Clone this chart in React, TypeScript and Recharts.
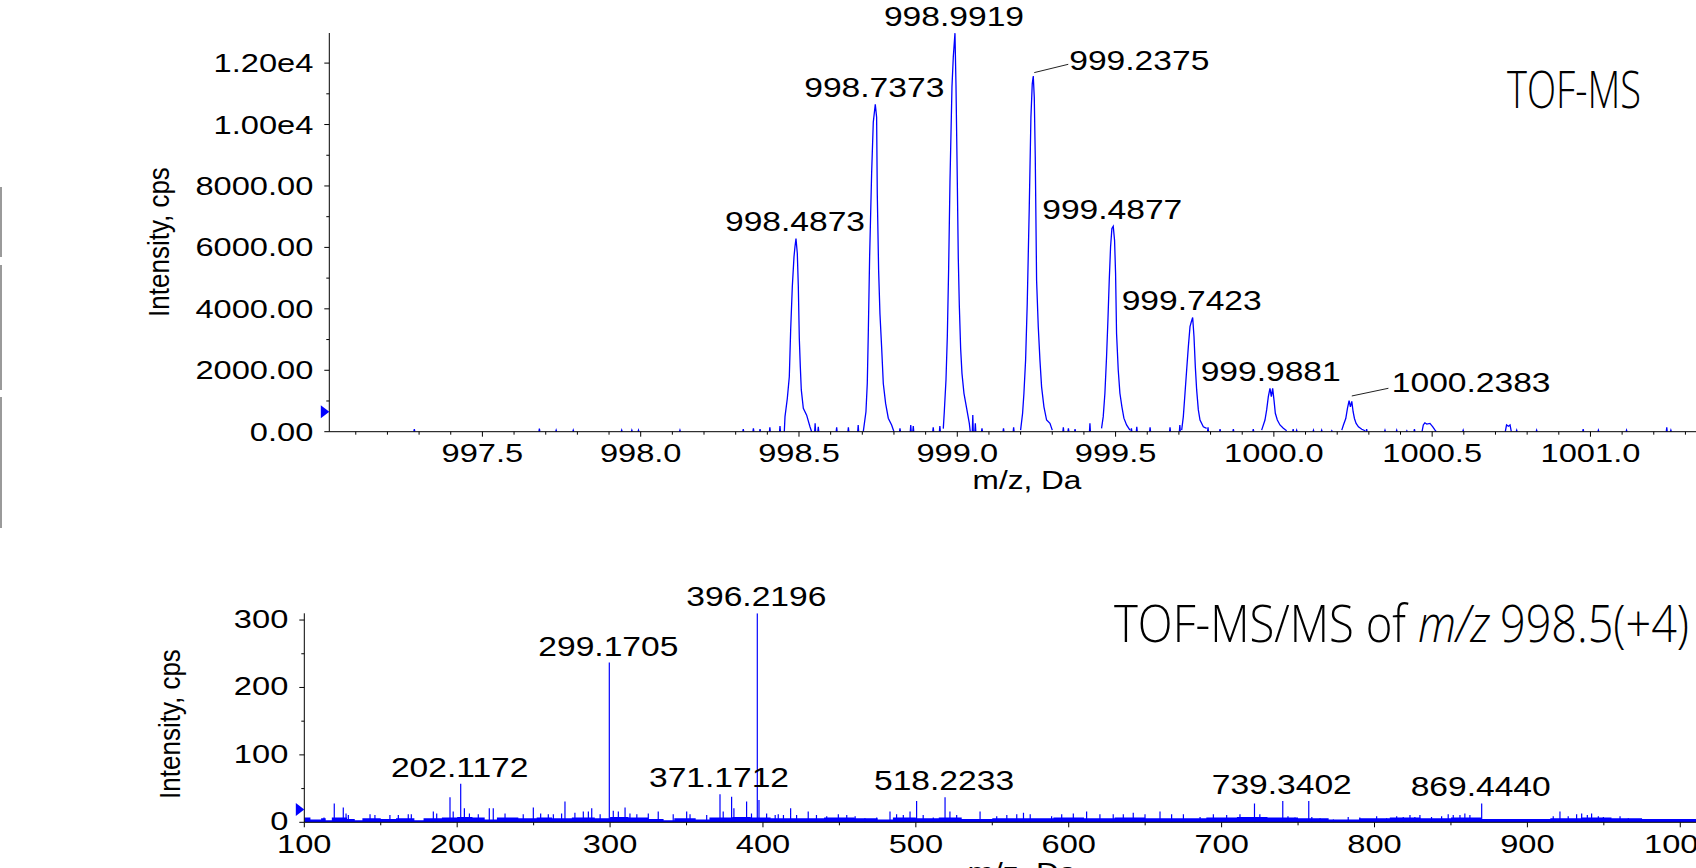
import React from 'react';
import { ComposedChart, Line, Area, XAxis, YAxis, ReferenceDot } from 'recharts';

type Pt = [number, number];

// ---------- TOF-MS (profile) : [m/z, intensity] ----------
const tofPeak1: Pt[] = [
  [998.4536, 0], [998.4558, 490], [998.4631, 1080], [998.4694, 1790], [998.4737, 3310],
  [998.4789, 4720], [998.4842, 5690], [998.4873, 6020], [998.4905, 6290], [998.4947, 5800],
  [998.4979, 4720], [998.501, 3040], [998.5042, 2110], [998.5073, 1360], [998.5137, 760],
  [998.5242, 540], [998.5347, 160], [998.54, 0],
];
const tofPeak2: Pt[] = [
  [998.7031, 0], [998.7115, 650], [998.7157, 1570], [998.7189, 3200], [998.7231, 5690],
  [998.7294, 8400], [998.7347, 10080], [998.741, 10660], [998.7452, 10240], [998.7473, 7750],
  [998.7515, 5260], [998.7557, 3850], [998.761, 2760], [998.7663, 1570], [998.7736, 920],
  [998.7821, 440], [998.7926, 220], [998.8, 0],
];
const tofPeak3: Pt[] = [
  [998.9558, 100], [998.959, 650], [998.9643, 1680], [998.9685, 3090], [998.9727, 5310],
  [998.9769, 8130], [998.9832, 11220], [998.9874, 12200], [998.9927, 12975], [998.9959, 11280],
  [999.0001, 8130], [999.0032, 5640], [999.0064, 4120], [999.0106, 2710], [999.0148, 1900],
  [999.0211, 1250], [999.0296, 760], [999.038, 270], [999.041, 0],
];
const tofPeak4: Pt[] = [
  [999.2, 50], [999.2063, 600], [999.2105, 1250], [999.2158, 2330], [999.221, 4180],
  [999.2274, 7320], [999.2326, 10240], [999.2368, 11330], [999.24, 11580], [999.2432, 10890],
  [999.2463, 8940], [999.2505, 4930], [999.2558, 3420], [999.2611, 2330], [999.2663, 1460],
  [999.2737, 810], [999.2821, 380], [999.2927, 270], [999.3, 50],
];
const tofPeak5: Pt[] = [
  [999.4557, 110], [999.461, 490], [999.4663, 1250], [999.4715, 2440], [999.4758, 3630],
  [999.48, 4930], [999.4842, 6020], [999.4884, 6620], [999.4926, 6690], [999.4968, 6230],
  [999.5, 5150], [999.5031, 3200], [999.5084, 2010], [999.5137, 1250], [999.52, 810],
  [999.5263, 440], [999.5347, 220], [999.5453, 50],
];
const tofPeak6: Pt[] = [
  [999.7088, 50], [999.714, 490], [999.7193, 1250], [999.7245, 2010], [999.7298, 2760],
  [999.7351, 3420], [999.7393, 3580], [999.7435, 3720], [999.7477, 3090], [999.7519, 2110],
  [999.7561, 1360], [999.7614, 710], [999.7667, 380], [999.7772, 160], [999.7877, 110],
];
const tofPeak7: Pt[] = [
  [999.9614, 50], [999.9719, 380], [999.9772, 710], [999.9825, 1140], [999.9877, 1410],
  [999.992, 1140], [999.9962, 1410], [1000.0004, 1030], [1000.0046, 600], [1000.0109, 380],
  [1000.0193, 220], [1000.0299, 110], [1000.0404, 30],
];
const tofPeak8: Pt[] = [
  [1000.2145, 50], [1000.2197, 220], [1000.2271, 430], [1000.2324, 760], [1000.2376, 1010],
  [1000.2418, 810], [1000.2461, 990], [1000.2503, 650], [1000.2545, 430], [1000.2598, 270],
  [1000.2671, 160], [1000.2777, 80], [1000.2882, 30],
];
const tofBump1: Pt[] = [
  [1000.468, 0], [1000.472, 220], [1000.477, 290], [1000.483, 250], [1000.493, 270],
  [1000.502, 160], [1000.509, 50], [1000.513, 0],
];
const tofBump2: Pt[] = [[1000.731, 0], [1000.735, 220], [1000.741, 180], [1000.746, 220], [1000.75, 0]];
const tofNoise: Pt[] = [
  [997.285, 80], [997.68, 100], [997.733, 50], [997.787, 50], [997.94, 50], [997.972, 50], [997.993, 50],
  [998.124, 50], [998.324, 80], [998.356, 110], [998.377, 80], [998.408, 140], [998.44, 180],
  [998.551, 270], [998.561, 160], [998.619, 140], [998.656, 140], [998.687, 220],
  [998.819, 110], [998.853, 220], [998.861, 180], [998.924, 140], [998.945, 180],
  [999.049, 540], [999.057, 270], [999.078, 110], [999.146, 110], [999.178, 140],
  [999.335, 140], [999.351, 110], [999.372, 80], [999.419, 270],
  [999.55, 110], [999.567, 160], [999.609, 140], [999.672, 140], [999.703, 220],
  [999.792, 140], [999.83, 80], [999.872, 80], [999.935, 80],
  [1000.061, 80], [1000.072, 50], [1000.125, 50], [1000.151, 50], [1000.183, 30],
  [1000.293, 80], [1000.351, 50], [1000.388, 50], [1000.42, 30], [1000.444, 80],
  [1000.598, 50], [1000.767, 50], [1000.83, 50], [1000.977, 80], [1001.025, 50],
  [1001.114, 50], [1001.241, 140], [1001.254, 50],
];
const tofLabelText = ['998.4873', '998.7373', '998.9919', '999.2375', '999.4877', '999.7423', '999.9881', '1000.2383'];
const tofLabelMz = [998.4905, 998.741, 998.9927, 999.24, 999.4926, 999.7435, 999.993, 1000.2408];
const tofLabelInt = [6290, 10660, 12975, 11580, 6690, 3720, 1410, 1010];
const tofXTickLabels = [997.5, 998.0, 998.5, 999.0, 999.5, 1000.0, 1000.5, 1001.0];
const tofYTickLabels = [0, 2000, 4000, 6000, 8000, 10000, 12000];
const tofMarkerLevel = 651;

// ---------- TOF-MS/MS (centroid sticks) : [m/z, intensity] ----------
const msmsMajorPeaks: Pt[] = [
  [195.3, 37], [202.3, 57], [299.5, 237], [371.9, 41.5], [379.5, 38], [389.3, 31], [396.3, 310],
  [397.4, 33], [500.5, 31.6], [519.1, 37], [721.5, 28], [740.0, 31.6], [757.0, 31.6], [870.1, 28], [921.3, 16],
];
const msmsMinorPeaks: Pt[] = [
  [101.6, 6], [112.9, 7], [119.6, 28], [125.5, 22], [127.3, 13], [128.8, 11], [143, 12], [146.2, 11],
  [156, 11], [161.5, 11], [168, 12], [170, 12], [184.4, 16], [186.6, 13], [197.4, 16], [204.7, 21],
  [208, 13], [213.8, 12], [221, 21], [223.6, 21], [231.3, 13], [243.2, 12], [249.8, 22], [254.6, 13],
  [259.6, 12], [262.9, 12], [268.3, 13], [270.5, 31], [277, 14], [282.5, 16], [285.8, 16], [288, 21],
  [293.5, 12], [302.1, 17], [305.4, 16], [309.8, 22], [313, 13], [317.5, 12], [325, 13], [331.5, 16],
  [341.3, 12], [350.1, 16], [352.3, 12], [363.2, 11], [374, 16], [381.0, 21], [392.5, 13],
  [402.4, 13], [408, 11], [410, 12], [413.4, 11], [418.1, 21], [422, 11], [429.6, 16], [435, 11],
  [441.7, 9], [449.3, 12], [454.8, 11], [460.3, 9], [466.7, 6], [474.4, 7], [483.1, 16], [487.4, 12],
  [491.8, 11], [496.2, 16], [504.8, 11], [511.4, 7], [522.3, 16], [526.7, 11], [542, 16], [552.9, 9],
  [559.5, 11], [566, 12], [570.4, 14], [574.8, 12], [588.8, 9], [595.4, 12], [603, 13], [611.7, 16],
  [620.4, 12], [629.1, 12], [635.7, 12], [642.2, 14], [649.9, 12], [659.7, 16], [667.3, 12], [675, 12],
  [685.9, 8], [694.6, 12], [703.3, 11], [712, 12], [725, 12], [743.4, 9], [748, 7], [759, 8],
  [764.4, 6], [773.1, 4], [782.8, 8], [790.4, 7], [801.4, 9], [807.9, 6], [814.5, 9], [818.8, 8],
  [823.2, 11], [826.4, 8], [829.7, 11], [837.3, 8], [843.9, 9], [848.2, 12], [851.5, 11], [855.9, 11],
  [859.1, 13], [862.4, 11], [873.3, 4], [886.4, 4], [901.6, 4], [912.5, 4], [916.9, 9], [926.7, 9],
  [932.2, 12], [935.5, 13], [939.2, 11], [942, 13], [946.4, 9], [949.7, 8], [960.6, 9], [966, 6],
  [980.2, 4], [993.3, 4], [1002, 4], [1008.5, 4],
];
const msmsFloor: Pt[] = [
  [100, 7], [104, 4], [111, 6], [114, 3], [118, 7], [128, 5], [133, 3], [138, 6], [150, 5], [160, 6],
  [172, 3], [178, 6], [190, 7], [200, 8], [210, 7], [218, 4], [226, 7], [240, 6], [252, 7], [262, 6],
  [275, 7], [290, 6], [300, 8], [312, 7], [325, 5], [335, 3], [342, 6], [356, 4], [365, 7], [380, 8],
  [392, 7], [405, 6], [420, 6], [440, 7], [460, 6], [475, 4], [485, 7], [500, 6], [515, 7], [530, 5],
  [550, 6], [570, 6], [590, 7], [610, 6], [630, 7], [650, 6], [670, 6], [690, 7], [710, 8], [730, 7],
  [750, 6], [770, 4], [790, 6], [810, 7], [830, 6], [850, 7], [870, 5], [900, 5], [915, 6], [935, 7],
  [955, 6], [975, 5], [995, 5], [1013, 5],
];
const msmsLabelText = ['202.1172', '299.1705', '371.1712', '396.2196', '518.2233', '739.3402', '869.4440'];
const msmsLabelMz = [202.3, 299.5, 371.9, 396.3, 519.1, 740.0, 870.1];
const msmsLabelInt = [57, 237, 41.5, 310, 37, 31.6, 28];
const msmsXTickLabels = [100, 200, 300, 400, 500, 600, 700, 800, 900, 1000];
const msmsYTickLabels = [0, 100, 200, 300];
const msmsMarkerLevel = 19;

// ---------- layout / style ----------
const FONT = "'Liberation Sans', Arial, Helvetica, sans-serif";
const TITLE_FONT = "'Open Sans', 'Noto Sans', 'Liberation Sans', sans-serif";
const BLUE = '#0000ff';
const TOF_X_DOMAIN: [number, number] = [997.0164, 1001.346];
const TOF_Y_DOMAIN: [number, number] = [0, 12980];
const MSMS_X_DOMAIN: [number, number] = [100, 1012.9];
const MSMS_Y_DOMAIN: [number, number] = [0, 310];

const leaderStyle: Record<string, { from: [number, number]; to: [number, number]; text: [number, number] }> = {
  '999.2375': { from: [1, -3.4], to: [35, -11.7], text: [36, -5.7] },
  '1000.2383': { from: [1.7, -4.7], to: [38.3, -12.4], text: [41.7, -8.7] },
};

// condensed title pieces: [text, x, baseline, fontSize, target width, horizontal scale, italic]
const titlePieces: [string, number, number, number, number, number, boolean][] = [
  ['TOF-MS', 1507, 108, 52, 134, 0.72, false],
  ['TOF-MS/MS of', 1114, 642, 51, 292, 0.86, false],
  ['m/z', 1418, 642, 51, 72, 0.82, true],
  ['998.5(+4)', 1500, 642, 51, 189, 0.86, false],
];

// ---------- derived tables ----------
const round = (v: number, d: number) => Math.round(v * 10 ** d) / 10 ** d;
const tofXTicks: number[] = [];
for (let i = 971; i <= 1013; i++) tofXTicks.push(round(i / 10 + 900, 1));
const tofYTicks: number[] = [];
for (let v = 0; v <= 12000; v += 1000) tofYTicks.push(v);
const msmsXTicks: number[] = [];
for (let v = 100; v <= 1000; v += 50) msmsXTicks.push(v);
const msmsYTicks: number[] = [];
for (let v = 0; v <= 300; v += 50) msmsYTicks.push(v);

type Row = { mz: number; value: number | null };
function joinGroups(groups: Pt[][]): Row[] {
  const sorted = groups.slice().sort((a, b) => a[0][0] - b[0][0]);
  const rows: Row[] = [];
  sorted.forEach((g) => {
    g.forEach(([mz, value]) => rows.push({ mz, value }));
    rows.push({ mz: g[g.length - 1][0], value: null });
  });
  return rows;
}
const tofData = joinGroups([
  tofPeak1, tofPeak2, tofPeak3, tofPeak4, tofPeak5, tofPeak6, tofPeak7, tofPeak8, tofBump1, tofBump2,
  ...tofNoise.map(([m, h]) => [[m - 0.0015, 0], [m, h], [m + 0.0015, 0]] as Pt[]),
]);
const msmsData = joinGroups(
  [...msmsMajorPeaks, ...msmsMinorPeaks].map(([m, h]) => [[m, 0], [m, h], [m, 0]] as Pt[]),
);
const msmsFloorData = msmsFloor.map(([mz, value]) => ({ mz, value }));

// ---------- custom renderers ----------
function TofXTick(props: any) {
  const { x, y, payload } = props;
  const v = payload.value as number;
  const major = tofXTickLabels.some((t) => Math.abs(t - v) < 1e-6);
  return (
    <g>
      <line x1={x} y1={y} x2={x} y2={y + (major ? 5 : 3)} stroke="#000" strokeWidth={1} />
      {major && (
        <text transform={`translate(${x},${y + 30}) scale(1.28,1)`} textAnchor="middle" fontSize={25.5} fontFamily={FONT} fill="#000">
          {v.toFixed(1)}
        </text>
      )}
    </g>
  );
}
function TofYTick(props: any) {
  const { x, y, payload } = props;
  const v = payload.value as number;
  const major = tofYTickLabels.includes(v);
  const label = v >= 10000 ? (v / 10000).toFixed(2) + 'e4' : v.toFixed(2);
  return (
    <g>
      <line x1={x - (major ? 5 : 3)} y1={y} x2={x} y2={y} stroke="#000" strokeWidth={1} />
      {major && (
        <text transform={`translate(${x - 16},${y + 9}) scale(1.28,1)`} textAnchor="end" fontSize={25.5} fontFamily={FONT} fill="#000">
          {label}
        </text>
      )}
    </g>
  );
}
function MsmsXTick(props: any) {
  const { x, y, payload } = props;
  const v = payload.value as number;
  const major = msmsXTickLabels.includes(v);
  return (
    <g>
      <line x1={x} y1={y} x2={x} y2={y + (major ? 5 : 3)} stroke="#000" strokeWidth={1} />
      {major && (
        <text transform={`translate(${x},${y + 31}) scale(1.28,1)`} textAnchor="middle" fontSize={25.5} fontFamily={FONT} fill="#000">
          {String(v)}
        </text>
      )}
    </g>
  );
}
function MsmsYTick(props: any) {
  const { x, y, payload } = props;
  const v = payload.value as number;
  const major = msmsYTickLabels.includes(v);
  return (
    <g>
      <line x1={x - (major ? 5 : 3)} y1={y} x2={x} y2={y} stroke="#000" strokeWidth={1} />
      {major && (
        <text transform={`translate(${x - 16},${y + 8}) scale(1.28,1)`} textAnchor="end" fontSize={25.5} fontFamily={FONT} fill="#000">
          {String(v)}
        </text>
      )}
    </g>
  );
}
const peakLabel = (text: string) => (p: any) => {
  const { cx, cy } = p;
  const ld = leaderStyle[text];
  if (ld) {
    return (
      <g>
        <line x1={cx + ld.from[0]} y1={cy + ld.from[1]} x2={cx + ld.to[0]} y2={cy + ld.to[1]} stroke="#222" strokeWidth={1} />
        <text transform={`translate(${cx + ld.text[0]},${cy + ld.text[1]}) scale(1.2,1)`} textAnchor="start" fontSize={28} fontFamily={FONT} fill="#000">
          {text}
        </text>
      </g>
    );
  }
  return (
    <text transform={`translate(${cx - 1},${cy - 7}) scale(1.2,1)`} textAnchor="middle" fontSize={28} fontFamily={FONT} fill="#000">
      {text}
    </text>
  );
};
const markerShape = (p: any) => {
  const { cx, cy } = p;
  return <polygon points={`${cx - 8.5},${cy - 6.5} ${cx - 8.5},${cy + 6.5} ${cx},${cy}`} fill={BLUE} />;
};

export default function App() {
  return (
    <div style={{ position: 'absolute', left: 0, top: 0, width: 1696, height: 868, overflow: 'hidden', background: '#fff' }}>
      <div style={{ position: 'absolute', left: 0, top: 0 }}>
        <ComposedChart width={1700} height={520} data={tofData} margin={{ top: 33, right: 0, bottom: 0, left: 0 }}>
          <XAxis
            dataKey="mz"
            type="number"
            domain={TOF_X_DOMAIN}
            allowDataOverflow
            ticks={tofXTicks}
            interval={0}
            tick={TofXTick}
            tickLine={false}
            tickSize={0}
            tickMargin={0}
            height={88.3}
            axisLine={{ stroke: '#000', strokeWidth: 1 }}
          />
          <YAxis
            type="number"
            domain={TOF_Y_DOMAIN}
            allowDataOverflow
            ticks={tofYTicks}
            interval={0}
            tick={TofYTick}
            tickLine={false}
            tickSize={0}
            tickMargin={0}
            width={329.3}
            axisLine={{ stroke: '#000', strokeWidth: 1 }}
          />
          <Line dataKey="value" type="linear" stroke={BLUE} strokeWidth={1.3} dot={false} activeDot={false} connectNulls={false} isAnimationActive={false} />
          {tofLabelText.map((t, i) => (
            <ReferenceDot key={t} x={tofLabelMz[i]} y={tofLabelInt[i]} r={0} ifOverflow="visible" shape={peakLabel(t)} />
          ))}
          <ReferenceDot x={TOF_X_DOMAIN[0]} y={tofMarkerLevel} r={0} ifOverflow="visible" shape={markerShape} />
        </ComposedChart>
      </div>
      <div style={{ position: 'absolute', left: 0, top: 540 }}>
        <ComposedChart width={1700} height={360} data={msmsData} margin={{ top: 73.3, right: 0, bottom: 0, left: 0 }}>
          <XAxis
            dataKey="mz"
            type="number"
            domain={MSMS_X_DOMAIN}
            allowDataOverflow
            ticks={msmsXTicks}
            interval={0}
            tick={MsmsXTick}
            tickLine={false}
            tickSize={0}
            tickMargin={0}
            height={77.7}
            axisLine={{ stroke: '#000', strokeWidth: 1 }}
          />
          <YAxis
            type="number"
            domain={MSMS_Y_DOMAIN}
            allowDataOverflow
            ticks={msmsYTicks}
            interval={0}
            tick={MsmsYTick}
            tickLine={false}
            tickSize={0}
            tickMargin={0}
            width={304.3}
            axisLine={{ stroke: '#000', strokeWidth: 1 }}
          />
          <Area data={msmsFloorData} dataKey="value" type="stepAfter" stroke="none" fill={BLUE} fillOpacity={1} isAnimationActive={false} />
          <Line dataKey="value" type="linear" stroke={BLUE} strokeWidth={1.2} dot={false} activeDot={false} connectNulls={false} isAnimationActive={false} />
          {msmsLabelText.map((t, i) => (
            <ReferenceDot key={t} x={msmsLabelMz[i]} y={msmsLabelInt[i]} r={0} ifOverflow="visible" shape={peakLabel(t)} />
          ))}
          <ReferenceDot x={MSMS_X_DOMAIN[0]} y={msmsMarkerLevel} r={0} ifOverflow="visible" shape={markerShape} />
        </ComposedChart>
      </div>
      <svg width={1696} height={868} style={{ position: 'absolute', left: 0, top: 0, pointerEvents: 'none' }}>
        <rect x={0} y={187} width={2} height={70} fill="#9a9a9a" />
        <rect x={0} y={265} width={2} height={125} fill="#9a9a9a" />
        <rect x={0} y={397} width={2} height={131} fill="#9a9a9a" />
        <text transform="translate(169.4,242) rotate(-90) scale(1,1.12)" textAnchor="middle" fontSize={26} fontFamily={FONT} fill="#000">
          Intensity, cps
        </text>
        <text transform="translate(180.4,724) rotate(-90) scale(1,1.12)" textAnchor="middle" fontSize={26} fontFamily={FONT} fill="#000">
          Intensity, cps
        </text>
        <text transform="translate(1027,489) scale(1.24,1)" textAnchor="middle" fontSize={25.5} fontFamily={FONT} fill="#000">
          m/z, Da
        </text>
        <text transform="translate(1022,880.6) scale(1.24,1)" textAnchor="middle" fontSize={25.5} fontFamily={FONT} fill="#000">
          m/z, Da
        </text>
        {titlePieces.map(([t, x, y, fs, w, sx, it]) => (
          <text
            key={t}
            transform={`translate(${x},${y}) scale(${sx},1)`}
            fontSize={fs}
            fontWeight={300}
            fontStyle={it ? 'italic' : 'normal'}
            fontFamily={TITLE_FONT}
            fill="#000"
            textLength={w / sx}
            lengthAdjust="spacingAndGlyphs"
          >
            {t}
          </text>
        ))}
      </svg>
    </div>
  );
}
